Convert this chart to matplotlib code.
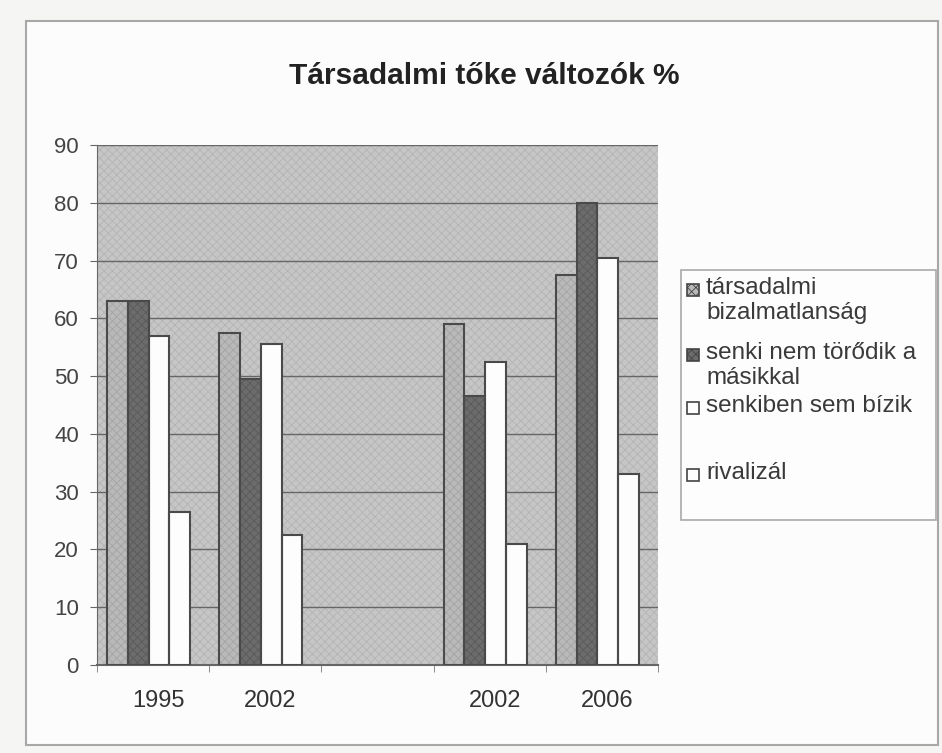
import numpy as np
import matplotlib
matplotlib.use("Agg")
import matplotlib.pyplot as plt
import matplotlib.transforms as mtransforms
from matplotlib.patches import Rectangle

plt.rcParams['font.family'] = ['Liberation Sans', 'DejaVu Sans']
plt.rcParams['hatch.linewidth'] = 0.6

# adatok
kategoriak = ['1995', '2002', '', '2002', '2006']
bizalmatlansag = [63, 57.5, np.nan, 59, 67.5]
senki_nem_torodik = [63, 49.5, np.nan, 46.5, 80]
senkiben_sem_bizik = [57, 55.5, np.nan, 52.5, 70.5]
rivalizal = [26.5, 22.5, np.nan, 21, 33]

sorozat_nevek = ['társadalmi\nbizalmatlanság', 'senki nem törődik a\nmásikkal',
                 'senkiben sem bízik', 'rivalizál']
sorozatok = [bizalmatlansag, senki_nem_torodik, senkiben_sem_bizik, rivalizal]
szinek = ['#b9b9b9', '#6c6c6c', '#fdfdfd', '#fdfdfd']
mintak = ['xxxx', 'xxxx', None, None]
minta_szin = ['#a4a4a4', '#5a5a5a', '#fdfdfd', '#fdfdfd']

W, H = 942, 753
fig = plt.figure(figsize=(W / 100, H / 100), dpi=100)
fig.patch.set_facecolor('#f5f5f4')

# kulso keret
fig.patches.append(Rectangle((26 / W, 1 - 745 / H), 912 / W, 724 / H, transform=fig.transFigure,
                             facecolor='#fcfcfc', edgecolor='#a8a8a8', lw=1.5, zorder=-5))

ax = fig.add_axes([97 / W, 1 - 665 / H, 561 / W, 520 / H])
ax.set_zorder(2)
ax.set_facecolor('#c6c6c6')
ax.add_patch(Rectangle((0, 0), 1, 1, transform=ax.transAxes, facecolor='none',
                       hatch='xxxx', edgecolor='#b4b4b4', lw=0, zorder=0))

x = np.arange(len(kategoriak))
w = 0.185
for i, (vals, c, h, hc) in enumerate(zip(sorozatok, szinek, mintak, minta_szin)):
    pos = x + (i - 1.5) * w - 0.04
    ax.bar(pos, vals, w, color=c, edgecolor=hc, hatch=h, lw=0, zorder=3)
    ax.bar(pos, vals, w, color='none', edgecolor='#4a4a4a', lw=1.5, zorder=4)

ax.set_xlim(-0.5, len(kategoriak) - 0.5)
ax.set_ylim(0, 90)
ax.set_yticks(np.arange(0, 91, 10))
ax.yaxis.grid(True, color='#666666', lw=1)
ax.set_axisbelow(True)
ax.set_xticks(x)
ax.set_xticklabels(kategoriak)
ax.set_xticks(np.arange(-0.5, len(kategoriak), 1), minor=True)
ax.tick_params(axis='x', which='major', length=0, pad=18, labelsize=17, colors='#333333')
ax.tick_params(axis='x', which='minor', length=5, color='#777777')
ax.tick_params(axis='y', length=5, color='#666666', pad=8, labelsize=16, labelcolor='#444444')
eltolas = mtransforms.ScaledTranslation(5 / 100, 0, fig.dpi_scale_trans)
for lbl in ax.get_xticklabels():
    lbl.set_transform(lbl.get_transform() + eltolas)
for s in ['top', 'right']:
    ax.spines[s].set_visible(False)
ax.spines['left'].set_color('#666666')
ax.spines['bottom'].set_color('#666666')
ax.spines['bottom'].set_linewidth(1.5)

fig.text(484 / W, 1 - 76 / H, 'Társadalmi tőke változók %', ha='center', va='center',
         fontsize=21.5, fontweight='bold', color='#222222')

# jelmagyarazat
fig.patches.append(Rectangle((681 / W, 1 - 520 / H), 255 / W, 250 / H, transform=fig.transFigure,
                             facecolor='#fdfdfd', edgecolor='#aaaaaa', lw=1.2, zorder=5))
sor_y = [290, 355, 408, 475]
for nev, c, h, hc, y in zip(sorozat_nevek, szinek, mintak, minta_szin, sor_y):
    fig.patches.append(Rectangle((687 / W, 1 - (y + 6) / H), 12 / W, 12 / H, transform=fig.transFigure,
                                 facecolor=c, hatch=h, edgecolor='#444444', lw=1.2, zorder=6))
    fig.text(706 / W, 1 - (y - 13) / H, nev, ha='left', va='top', fontsize=17.5,
             color='#3a3a3a', linespacing=1.15, zorder=7)

fig.savefig('out.png', dpi=100, facecolor=fig.get_facecolor())
